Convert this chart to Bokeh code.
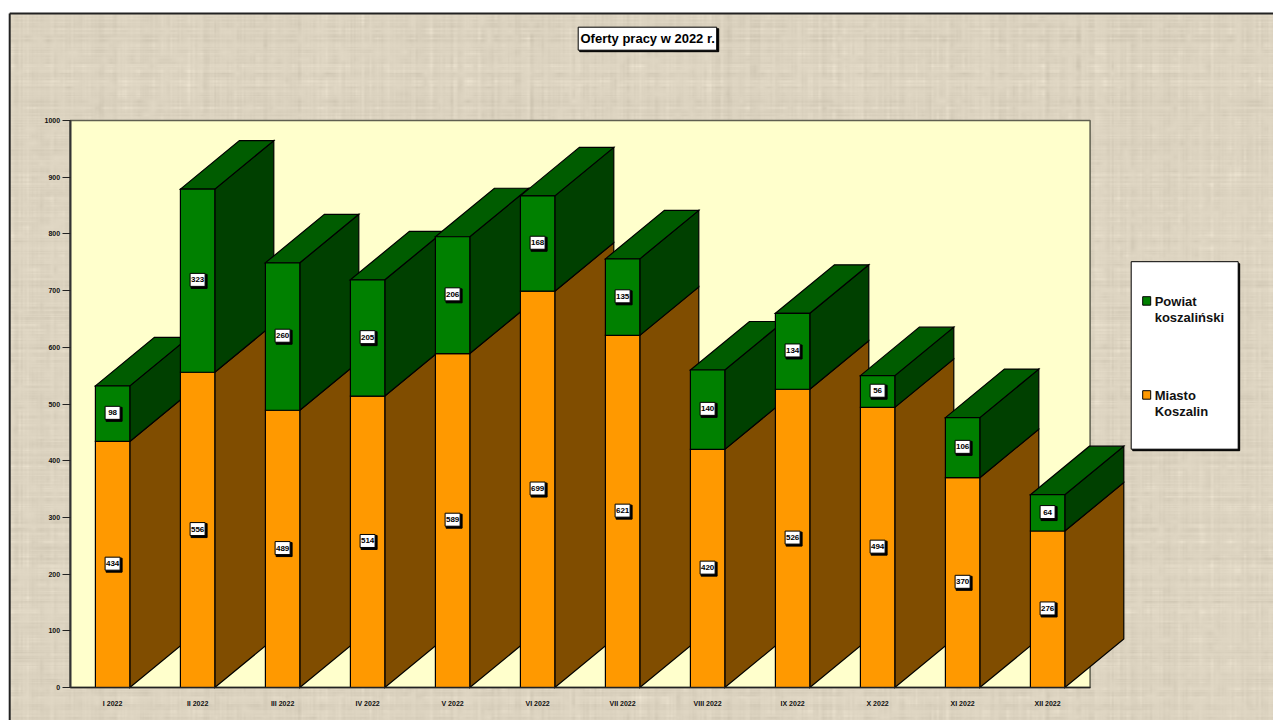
import numpy as np
from bokeh.plotting import figure
from bokeh.embed import file_html
from bokeh.resources import INLINE
from bokeh.models import Range1d, FixedTicker
from bokeh.core.properties import value

title_text = "Oferty pracy w 2022 r."
months = ["I 2022", "II 2022", "III 2022", "IV 2022", "V 2022", "VI 2022",
          "VII 2022", "VIII 2022", "IX 2022", "X 2022", "XI 2022", "XII 2022"]
miasto = [434, 556, 489, 514, 589, 699, 621, 420, 526, 494, 370, 276]
powiat = [98, 323, 260, 205, 206, 168, 135, 140, 134, 56, 106, 64]
legend_powiat = ["Powiat", "koszaliński"]
legend_miasto = ["Miasto", "Koszalin"]

W, H = 1273, 720
X0, XW = 112.1, 85.0       # page px of first category centre, px per category
Y0, YS = 687.0, 0.567      # page px of value 0, px per unit
SY = 0.8                   # nudge of boxes and texts upward, px

def dxs(px): return (px - 0.8 - X0) / XW
def dy(py): return (Y0 - py) / YS
def dys(py): return (Y0 - py + SY) / YS

p = figure(width=W, height=H, output_backend="svg", toolbar_location=None,
           x_range=Range1d((0 - X0) / XW, (W - X0) / XW), y_range=Range1d(dy(H), dy(0)),
           min_border=0, min_border_left=0, min_border_right=0,
           min_border_top=0, min_border_bottom=0, background_fill_color="white",
           border_fill_color="white", outline_line_color=None)
p.grid.visible = False

# linen texture: thread-by-thread brightness from a deterministic hash
tw, th = 1265, 708
def threads(n, seed):
    h = np.sin(np.arange(n) * 12.9898 + seed) * 43758.5453
    return (h - np.floor(h)) - 0.5
def smooth(a, n):
    return np.convolve(a, np.ones(n) / n, mode="same")
def blur2(a, n):
    a = np.apply_along_axis(smooth, 0, a, n)
    return np.apply_along_axis(smooth, 1, a, n)
cx = threads(tw, 1.3)
cy = threads(th, 4.7)
wx = smooth(threads(tw, 7.1), 3)
wy = smooth(threads(th, 2.9), 3)
# patches that let threads fade in and out along their length
bw, bh = tw // 7 + 2, th // 7 + 2
cell = threads(bw * bh, 6.6).reshape(bh, bw)
patch_a = blur2(np.kron(cell, np.ones((7, 7)))[:th, :tw], 7) * 2.2
cell2 = threads(bw * bh, 8.8).reshape(bh, bw)
patch_b = blur2(np.kron(cell2, np.ones((7, 7)))[:th, :tw], 7) * 2.2
tex = (10 * cy[:, None] * (1 + patch_a) + 16 * wy[:, None] * (1 + patch_a)
       + 10 * cx[None, :] * (1 + patch_b) + 16 * wx[None, :] * (1 + patch_b)
       + 8 * patch_a * patch_b)
tex = 0.36 * tex + 0.24 * blur2(tex, 2)
img = np.zeros((th, tw), dtype=np.uint32)
view = img.view(dtype=np.uint8).reshape((th, tw, 4))
view[..., 0] = np.clip(221 + tex, 0, 255)
view[..., 1] = np.clip(212 + tex, 0, 255)
view[..., 2] = np.clip(193 + tex, 0, 255)
view[..., 3] = 255
p.image_rgba(image=[img], x=[dxs(9.8)], y=[dy(12.5 + th)], dw=[tw / XW], dh=[th / YS], level="image")

# outer frame lines
p.line(x=[dxs(10), dxs(10)], y=[dy(722), dy(13)], line_color="#222222", line_width=2)
p.line(x=[dxs(10), dxs(1275)], y=[dy(13), dy(13)], line_color="#222222", line_width=2)

# plot area
p.quad(left=[-0.5], right=[11.5], bottom=[0], top=[1000], fill_color="#FFFFCC",
       line_color="#5f5f50", line_width=1.5)

# 3-D bars, drawn from the data
half = 17.2 / XW
ddx, ddy = 59 / XW, 48.5 / YS
xs, ys, fills = [], [], []
for i, (m, w) in enumerate(zip(miasto, powiat)):
    l, r = i - half, i + half
    t = m + w
    xs += [[r, r + ddx, r + ddx, r], [r, r + ddx, r + ddx, r],
           [l, l + ddx, r + ddx, r], [l, r, r, l], [l, r, r, l]]
    ys += [[0, ddy, m + ddy, m], [m, m + ddy, t + ddy, t],
           [t, t + ddy, t + ddy, t], [0, 0, m, m], [m, m, t, t]]
    fills += ["#804D00", "#004000", "#005C00", "#FF9900", "#008000"]
p.patches(xs, ys, fill_color=fills, line_color="black", line_width=1.2, line_join="miter")

# value labels
lab_x, lab_y, lab_t = [], [], []
for i, (m, w) in enumerate(zip(miasto, powiat)):
    lab_x += [i, i]
    lab_y += [m / 2, m + w / 2]
    lab_t += [str(m), str(w)]
lab_x = np.array(lab_x, dtype=float)
lab_y = np.array(lab_y, dtype=float) + SY / YS
p.rect(lab_x + 1.5 / XW, lab_y - 1.5 / YS, width=16, height=14, width_units="screen",
       height_units="screen", fill_color="black", line_color="black", line_width=1)
p.rect(lab_x, lab_y, width=15, height=13, width_units="screen", height_units="screen",
       fill_color="white", line_color="black", line_width=1)
p.text(lab_x, lab_y, text=lab_t, text_font=value("Liberation Sans"), text_font_style="bold",
       text_font_size="8px", text_align="center", text_baseline="middle", text_color="black")

# axes
xa = p.xaxis[0]
xa.fixed_location = 0
xa.bounds = (-0.5, 11.5)
xa.ticker = FixedTicker(ticks=list(range(12)))
xa.major_label_overrides = {i: m for i, m in enumerate(months)}
xa.major_tick_line_color = None
xa.minor_tick_line_color = None
xa.axis_line_color = "#222222"
xa.axis_line_width = 1.5
xa.major_label_standoff = 6
xa.major_label_text_font = "Liberation Sans"
xa.major_label_text_font_style = "bold"
xa.major_label_text_font_size = "7px"
xa.major_label_text_color = "#111111"

ya = p.yaxis[0]
ya.fixed_location = -0.5
ya.bounds = (0, 1000)
ya.ticker = FixedTicker(ticks=list(range(0, 1001, 100)))
ya.minor_tick_line_color = None
ya.major_tick_in = 0
ya.major_tick_out = 8
ya.major_tick_line_color = "#222222"
ya.major_tick_line_width = 1
ya.axis_line_color = "#333333"
ya.axis_line_width = 2
ya.major_label_standoff = 2
ya.major_label_text_font = "Liberation Sans"
ya.major_label_text_font_style = "bold"
ya.major_label_text_font_size = "7px"
ya.major_label_text_color = "#111111"

# title box
p.quad(left=[dxs(580)], right=[dxs(719)], top=[dys(29)], bottom=[dys(52)], fill_color="black", line_color="black")
p.quad(left=[dxs(578.5)], right=[dxs(717)], top=[dys(27.5)], bottom=[dys(50.5)], fill_color="white",
       line_color="black", line_width=1)
p.text([dxs(648)], [dys(39)], text=[title_text], text_font=value("Liberation Sans"),
       text_font_style="bold", text_font_size="13px", text_align="center",
       text_baseline="middle", text_color="black")

# legend box
p.quad(left=[dxs(1133)], right=[dxs(1240)], top=[dys(264)], bottom=[dys(451)], fill_color="black", line_color="black")
p.quad(left=[dxs(1131.5)], right=[dxs(1238.5)], top=[dys(262)], bottom=[dys(449.5)], fill_color="white",
       line_color="black", line_width=1)
p.quad(left=[dxs(1143), dxs(1143)], right=[dxs(1151), dxs(1151)], top=[dys(297), dys(391)],
       bottom=[dys(305.5), dys(399.5)], fill_color=["#008000", "#FF9900"], line_color="black", line_width=1)
p.text([dxs(1155)] * 4, [dys(302), dys(318), dys(396), dys(412)],
       text=legend_powiat + legend_miasto, text_font=value("Liberation Sans"),
       text_font_style="bold", text_font_size="13px", text_align="left",
       text_baseline="middle", text_color="#111111")

open("out.html", "w").write(file_html(p, INLINE))
